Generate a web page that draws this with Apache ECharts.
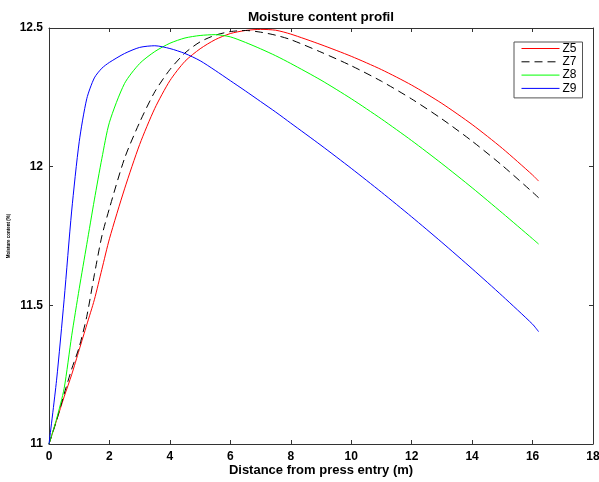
<!DOCTYPE html>
<html>
<head>
<meta charset="utf-8">
<script src="https://cdn.jsdelivr.net/npm/echarts@6/dist/echarts.min.js"></script>
<style>
  html, body { margin: 0; padding: 0; background: #fff; }
  #chart { width: 599px; height: 482px; }
</style>
</head>
<body>
<div id="chart"></div>
<script>
// Distance from press entry (m)
const distance = [0, 0.25, 0.5, 0.75, 1, 1.25, 1.5, 1.75, 2, 2.5, 3, 3.5, 4, 4.5, 5, 5.5, 6, 6.5, 7, 7.5, 8, 9, 10, 11, 12, 13, 14, 15, 16, 16.2];

// Moisture content per zone
const z5 = [11.00, 11.085, 11.17, 11.25, 11.34, 11.43, 11.52, 11.63, 11.74, 11.92, 12.08, 12.21, 12.31, 12.38, 12.425, 12.458, 12.48, 12.491, 12.495, 12.492, 12.478, 12.44, 12.398, 12.35, 12.294, 12.228, 12.152, 12.066, 11.97, 11.948];
const z7 = [11.00, 11.085, 11.18, 11.27, 11.35, 11.46, 11.61, 11.75, 11.85, 12.03, 12.16, 12.27, 12.35, 12.41, 12.45, 12.474, 12.487, 12.491, 12.485, 12.474, 12.458, 12.413, 12.364, 12.308, 12.244, 12.172, 12.092, 12.004, 11.908, 11.888];
const z8 = [11.00, 11.09, 11.20, 11.39, 11.56, 11.72, 11.88, 12.03, 12.16, 12.30, 12.372, 12.415, 12.445, 12.464, 12.473, 12.476, 12.468, 12.448, 12.425, 12.40, 12.372, 12.312, 12.245, 12.172, 12.094, 12.011, 11.924, 11.833, 11.74, 11.721];
const z9 = [11.00, 11.23, 11.52, 11.84, 12.09, 12.245, 12.32, 12.355, 12.376, 12.408, 12.43, 12.436, 12.426, 12.408, 12.382, 12.347, 12.31, 12.273, 12.235, 12.197, 12.157, 12.077, 11.994, 11.908, 11.819, 11.727, 11.632, 11.534, 11.432, 11.405];

const seriesNames = ['Z5', 'Z7', 'Z8', 'Z9'];
const seriesValues = [z5, z7, z8, z9];
const seriesColors = ['#ff0000', '#000000', '#00ff00', '#0000ff'];
const seriesDash = ['solid', [8, 5], 'solid', 'solid'];

const titleText = 'Moisture content profil';
const xTitle = 'Distance from press entry (m)';
const yTitle = 'Moisture content (%)';

const fontFamily = 'Liberation Sans, Arial, sans-serif';
const axisColor = '#333';
const tickFont = { color: '#000', fontWeight: 'bold', fontSize: 12, fontFamily: fontFamily };

const chart = echarts.init(document.getElementById('chart'), null, { renderer: 'canvas' });

// Box-style axes: ticks point inward on all four sides
const frameAxis = {
  nameMoveOverlap: false,
  axisLine: { show: true, onZero: false, lineStyle: { color: axisColor, width: 1 } },
  axisTick: { show: true, inside: true, length: 4, lineStyle: { color: axisColor } },
  splitLine: { show: false }
};

chart.setOption({
  animation: false,
  backgroundColor: '#fff',
  title: {
    text: titleText,
    left: 316,
    top: 5,
    textAlign: 'center',
    textStyle: { fontSize: 13.5, fontWeight: 'bold', color: '#000', fontFamily: fontFamily }
  },
  legend: {
    orient: 'vertical',
    left: 514,
    top: 42,
    padding: [0, 6, 3, 7],
    itemWidth: 38,
    itemHeight: 9,
    itemGap: 0.3,
    borderColor: '#555',
    borderWidth: 1,
    backgroundColor: '#fff',
    itemStyle: { opacity: 0 },
    lineStyle: { width: 1 },
    textStyle: { fontSize: 12, lineHeight: 13, color: '#000', padding: [0, 0, 0, -2], fontFamily: fontFamily },
    data: seriesNames
  },
  grid: { left: 49, top: 28, right: 6, bottom: 38, containLabel: false, outerBoundsMode: 'none' },
  xAxis: [
    Object.assign({
      type: 'value', position: 'bottom', min: 0, max: 18, interval: 2,
      axisLabel: Object.assign({ margin: 7 }, tickFont),
      name: xTitle, nameLocation: 'middle', nameGap: 20,
      nameTextStyle: { fontSize: 13, fontWeight: 'bold', color: '#000', fontFamily: fontFamily }
    }, frameAxis),
    Object.assign({
      type: 'value', position: 'top', min: 0, max: 18, interval: 2,
      axisLabel: { show: false }
    }, frameAxis)
  ],
  yAxis: [
    Object.assign({
      type: 'value', position: 'left', min: 11, max: 12.5, interval: 0.5,
      axisLabel: Object.assign({ margin: 6, formatter: v => String(+v.toFixed(1)) }, tickFont),
      name: yTitle, nameLocation: 'middle', nameGap: 38, nameRotate: 90,
      nameTextStyle: { fontSize: 4.5, fontWeight: 'bold', color: '#000' }
    }, frameAxis),
    Object.assign({
      type: 'value', position: 'right', min: 11, max: 12.5, interval: 0.5,
      axisLabel: { show: false }
    }, frameAxis)
  ],
  series: seriesNames.map((name, i) => ({
    name: name,
    type: 'line',
    xAxisIndex: 0,
    yAxisIndex: 0,
    symbol: 'none',
    smooth: 0.25,
    color: seriesColors[i],
    lineStyle: { width: 1, color: seriesColors[i], type: seriesDash[i] },
    data: distance.map((d, k) => [d, seriesValues[i][k]])
  }))
});
</script>
</body>
</html>
